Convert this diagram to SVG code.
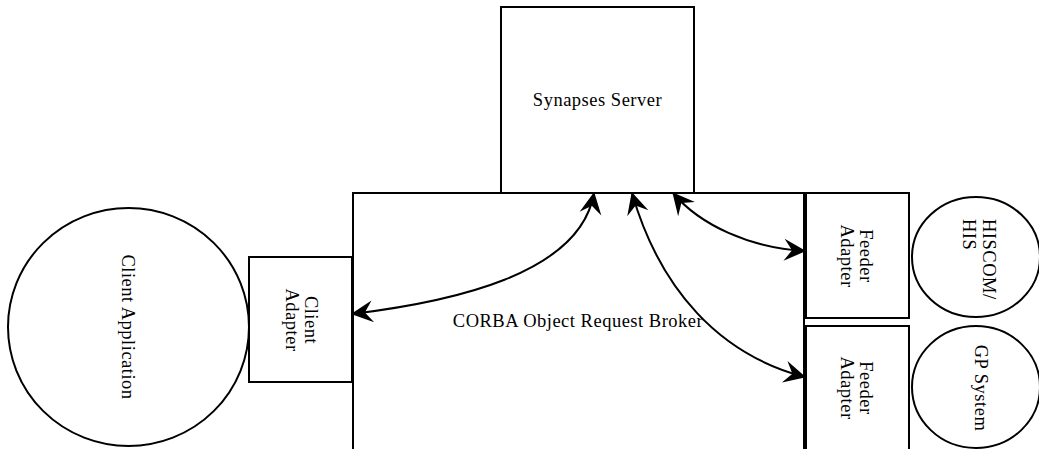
<svg xmlns="http://www.w3.org/2000/svg" width="1039" height="449" viewBox="0 0 1039 449">
  <style>
    .shape { fill: #ffffff; stroke: #000000; stroke-width: 2; }
    .link { fill: none; stroke: #000000; stroke-width: 2; }
    text { font-family: "Liberation Serif", "Times New Roman", serif; font-size: 18.5px; letter-spacing: 0.5px; fill: #000000; }
    .mid { text-anchor: middle; }
  </style>
  <defs>
    <marker id="barb" markerUnits="userSpaceOnUse" markerWidth="1" markerHeight="1" refX="0" refY="0" overflow="visible" orient="auto-start-reverse">
      <path d="M1,0 L-21,-11 L-13,0 L-21,11 Z" fill="#000000"/>
    </marker>
  </defs>

  <!-- middleware bus, drawn first so the server and adapters sit on its edges -->
  <g id="corba-orb">
    <rect class="shape" x="353" y="193" width="451" height="300"/>
    <text class="mid" x="578" y="327">CORBA Object Request Broker</text>
  </g>

  <g id="synapses-server">
    <rect class="shape" x="501" y="7" width="193" height="186"/>
    <text class="mid" x="597.5" y="106">Synapses Server</text>
  </g>

  <g id="client-application">
    <ellipse class="shape" cx="128.5" cy="327" rx="120.5" ry="119"/>
    <text class="mid" transform="translate(122,327) rotate(90)">Client Application</text>
  </g>

  <g id="client-adapter">
    <rect class="shape" x="249" y="257" width="103" height="125"/>
    <text class="mid" transform="translate(305,320) rotate(90)">Client</text>
    <text class="mid" transform="translate(286,320) rotate(90)">Adapter</text>
  </g>

  <g id="feeder-adapter-his">
    <rect class="shape" x="806" y="193" width="103" height="125"/>
    <text class="mid" transform="translate(860,256) rotate(90)">Feeder</text>
    <text class="mid" transform="translate(841,256) rotate(90)">Adapter</text>
  </g>

  <g id="feeder-adapter-gp">
    <rect class="shape" x="806" y="326" width="103" height="160"/>
    <text class="mid" transform="translate(860,388) rotate(90)">Feeder</text>
    <text class="mid" transform="translate(841,388) rotate(90)">Adapter</text>
  </g>

  <g id="hiscom-his">
    <ellipse class="shape" cx="976" cy="257" rx="64" ry="60"/>
    <text transform="translate(983,219) rotate(90)">HISCOM/</text>
    <text transform="translate(963,219) rotate(90)">HIS</text>
  </g>

  <g id="gp-system">
    <ellipse class="shape" cx="976" cy="387" rx="64" ry="61"/>
    <text class="mid" transform="translate(975,388) rotate(90)">GP System</text>
  </g>

  <g id="connectors">
    <path class="link" d="M352,314 C450,302 580,275 594,193" marker-start="url(#barb)" marker-end="url(#barb)"/>
    <path class="link" d="M632,193 C660,290 720,355 805,377" marker-start="url(#barb)" marker-end="url(#barb)"/>
    <path class="link" d="M673,193 C700,225 750,248 805,251" marker-start="url(#barb)" marker-end="url(#barb)"/>
  </g>
</svg>
